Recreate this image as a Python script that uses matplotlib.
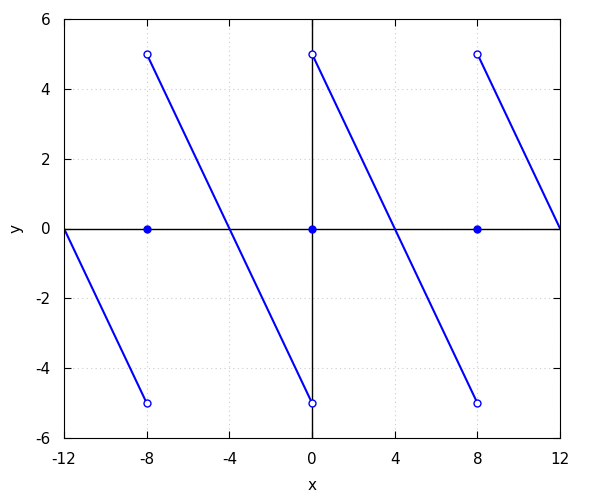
import matplotlib
matplotlib.use("Agg")
import matplotlib.pyplot as plt

# sawtooth segments (x start, y start, x end, y end)
seg_x0 = [-12, -8, 0, 8]
seg_y0 = [0, 5, 5, 5]
seg_x1 = [-8, 0, 8, 12]
seg_y1 = [-5, -5, -5, 0]

# jump points
open_x = [-8, -8, 0, 0, 8, 8]
open_y = [5, -5, 5, -5, 5, -5]
filled_x = [-8, 0, 8]
filled_y = [0, 0, 0]

xticks = [-12, -8, -4, 0, 4, 8, 12]
yticks = [-6, -4, -2, 0, 2, 4, 6]

fig = plt.figure(figsize=(6, 5), dpi=100)
ax = fig.add_axes([0.1067, 0.124, 0.8267, 0.838])
ax.set_axisbelow(True)

ax.axhline(0, color="black", lw=1, zorder=1.5)
ax.axvline(0, color="black", lw=1, zorder=1.5)

for x0, y0, x1, y1 in zip(seg_x0, seg_y0, seg_x1, seg_y1):
    ax.plot([x0, x1], [y0, y1], color="blue", lw=1.5, zorder=2)

ax.plot(open_x, open_y, "o", ms=5, mfc="white", mec="blue", mew=1, zorder=3)
ax.plot(filled_x, filled_y, "o", ms=5, color="blue", zorder=3)

ax.set_xlim(-12, 12)
ax.set_ylim(-6, 6)
ax.set_xticks(xticks)
ax.set_yticks(yticks)
ax.set_xticklabels([str(t) for t in xticks])
ax.set_yticklabels([str(t) for t in yticks])
ax.tick_params(direction="in", top=True, right=True, labelsize=11, length=5)
ax.tick_params(axis="x", pad=10)
ax.tick_params(axis="y", pad=10)
ax.grid(True, color="#cccccc", linestyle=(0, (1, 3)), lw=0.8, zorder=0)
ax.set_xlabel("x", fontsize=11, labelpad=8)
ax.set_ylabel("y", fontsize=11, labelpad=8)

fig.savefig("out.png", dpi=100)
